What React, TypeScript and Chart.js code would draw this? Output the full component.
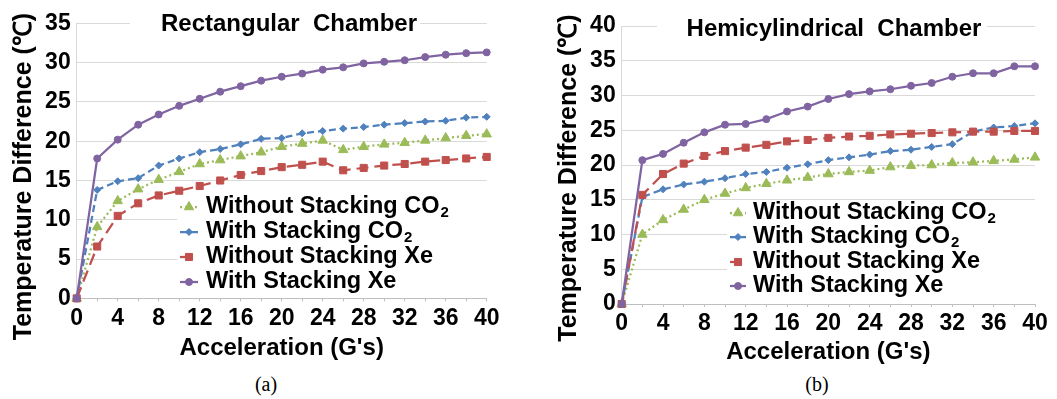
import React, { useEffect, useRef } from "react";
import { Chart, registerables } from "chart.js";

Chart.register(...registerables);

// ---------------- DATA ----------------
const accelerationG = [0, 2, 4, 6, 8, 10, 12, 14, 16, 18, 20, 22, 24, 26, 28, 30, 32, 34, 36, 38, 40];
const xTickLabels = ["0", "4", "8", "12", "16", "20", "24", "28", "32", "36", "40"];

const seriesLabels = [
  "Without Stacking CO\u2082",
  "With Stacking CO\u2082",
  "Without Stacking Xe",
  "With Stacking Xe",
];

// (a) Rectangular Chamber
const rectWithoutStackingCO2 = [0, 9.1, 12.4, 13.9, 15.1, 16.1, 17.1, 17.6, 18.1, 18.6, 19.3, 19.7, 20.1, 18.9, 19.3, 19.6, 19.8, 20.1, 20.4, 20.7, 20.9];
const rectWithStackingCO2 = [0, 13.8, 14.9, 15.3, 16.9, 17.8, 18.6, 19.0, 19.6, 20.3, 20.4, 21.0, 21.3, 21.6, 21.8, 22.1, 22.3, 22.5, 22.6, 23.0, 23.1];
const rectWithoutStackingXe = [0, 6.6, 10.5, 12.1, 13.1, 13.7, 14.3, 15.0, 15.7, 16.2, 16.7, 17.0, 17.4, 16.3, 16.6, 16.9, 17.1, 17.4, 17.6, 17.8, 18.0];
const rectWithStackingXe = [0, 17.8, 20.2, 22.1, 23.4, 24.5, 25.4, 26.3, 27.0, 27.7, 28.2, 28.6, 29.1, 29.4, 29.9, 30.1, 30.3, 30.7, 31.0, 31.2, 31.3];

// (b) Hemicylindrical Chamber
const hemiWithoutStackingCO2 = [0, 10.0, 12.1, 13.6, 15.0, 15.9, 16.7, 17.3, 17.8, 18.2, 18.7, 19.0, 19.2, 19.7, 19.9, 20.0, 20.3, 20.4, 20.6, 20.8, 21.1];
const hemiWithStackingCO2 = [0, 15.4, 16.5, 17.2, 17.6, 18.1, 18.7, 19.0, 19.6, 20.1, 20.7, 21.1, 21.5, 22.0, 22.2, 22.6, 23.0, 24.8, 25.4, 25.6, 26.0];
const hemiWithoutStackingXe = [0, 15.7, 18.7, 20.2, 21.3, 22.0, 22.5, 22.9, 23.4, 23.6, 23.9, 24.1, 24.2, 24.4, 24.5, 24.6, 24.7, 24.8, 24.8, 24.9, 24.9];
const hemiWithStackingXe = [0, 20.7, 21.6, 23.2, 24.7, 25.8, 25.9, 26.6, 27.7, 28.4, 29.5, 30.2, 30.6, 30.9, 31.4, 31.8, 32.7, 33.2, 33.2, 34.2, 34.2];

// ---------------- STYLE ----------------
const FONT = "'Liberation Sans', Arial, Helvetica, sans-serif";
const seriesColors = ["#9BBB59", "#4F81BD", "#C0504D", "#8064A2"];
const seriesDash = [[2, 3], [7, 4], [12, 6], []];
const seriesPoint = ["triangle", "rectRot", "rect", "circle"];
const seriesRadius = [5.5, 3.5, 5, 3.5];

const CANVAS_H = 370;
const X_AXIS_H = 64;

type Spec = {
  title: string;
  yMax: number;
  canvasLeft: number;
  canvasWidth: number;
  plotLeft: number;
  plotRight: number;
  plotTop: number;
  plotBottom: number;
  titleX: number;
  titleY: number;
  titleBox: [number, number, number, number];
  yTitleX: number;
  yTitleY: number;
  legendBox: [number, number, number, number];
  legendLineX0: number;
  legendLineX1: number;
  legendTextX: number;
  legendRows: number[];
  xTitlePadBottom: number;
};

function drawMarker(ctx: CanvasRenderingContext2D, style: string, x: number, y: number, r: number) {
  ctx.beginPath();
  const s = r * Math.SQRT1_2;
  if (style === "circle") {
    ctx.arc(x, y, r, 0, Math.PI * 2);
  } else if (style === "triangle") {
    ctx.moveTo(x, y - r);
    ctx.lineTo(x + r * Math.sin((2 * Math.PI) / 3), y - r * Math.cos((2 * Math.PI) / 3));
    ctx.lineTo(x + r * Math.sin((4 * Math.PI) / 3), y - r * Math.cos((4 * Math.PI) / 3));
  } else if (style === "rect") {
    ctx.rect(x - s, y - s, 2 * s, 2 * s);
  } else if (style === "rectRot") {
    ctx.moveTo(x - r, y);
    ctx.lineTo(x, y + r);
    ctx.lineTo(x + r, y);
    ctx.lineTo(x, y - r);
  }
  ctx.closePath();
  ctx.fill();
  ctx.stroke();
}

function overlayPlugin(spec: Spec) {
  return {
    id: "overlay",
    beforeDatasetsDraw(chart: any) {
      const ctx: CanvasRenderingContext2D = chart.ctx;
      ctx.save();
      ctx.fillStyle = "#ffffff";
      ctx.fillRect(...spec.titleBox);
      ctx.fillRect(...spec.legendBox);
      ctx.restore();
    },
    afterDatasetsDraw(chart: any) {
      const ctx: CanvasRenderingContext2D = chart.ctx;
      ctx.save();
      // chart title
      ctx.fillStyle = "#000";
      ctx.font = `bold 24px ${FONT}`;
      ctx.textAlign = "center";
      ctx.textBaseline = "middle";
      ctx.fillText(spec.title, spec.titleX, spec.titleY);

      // y-axis title
      ctx.save();
      ctx.translate(spec.yTitleX, spec.yTitleY);
      ctx.rotate(-Math.PI / 2);
      ctx.font = `bold 25px ${FONT}`;
      ctx.fillText("Temperature Difference (\u2103)", 0, 0);
      ctx.restore();

      // legend
      chart.data.datasets.forEach((ds: any, i: number) => {
        const y = spec.legendRows[i];
        ctx.save();
        ctx.strokeStyle = ds.borderColor;
        ctx.lineWidth = 2.25;
        ctx.setLineDash(ds.borderDash || []);
        ctx.beginPath();
        ctx.moveTo(spec.legendLineX0, y);
        ctx.lineTo(spec.legendLineX1, y);
        ctx.stroke();
        ctx.setLineDash([]);
        ctx.fillStyle = ds.borderColor;
        ctx.lineWidth = 1;
        drawMarker(ctx, ds.pointStyle, (spec.legendLineX0 + spec.legendLineX1) / 2, y, ds.pointRadius);
        ctx.restore();

        const label: string = ds.label;
        ctx.fillStyle = "#000";
        ctx.textAlign = "left";
        ctx.textBaseline = "middle";
        ctx.font = `bold 23.5px ${FONT}`;
        if (label.endsWith("\u2082")) {
          const base = label.slice(0, -1);
          ctx.fillText(base, spec.legendTextX, y);
          const w = ctx.measureText(base).width;
          ctx.font = `bold 15px ${FONT}`;
          ctx.fillText("2", spec.legendTextX + w + 1, y + 6);
        } else {
          ctx.fillText(label, spec.legendTextX, y);
        }
      });
      ctx.restore();
    },
  };
}

function Panel({ spec, series }: { spec: Spec; series: number[][] }) {
  const ref = useRef<HTMLCanvasElement>(null);
  useEffect(() => {
    const canvas = ref.current;
    if (!canvas) return;
    const chart = new Chart(canvas, {
      type: "line",
      data: {
        datasets: series.map((vals, i) => ({
          label: seriesLabels[i],
          data: accelerationG.map((x, j) => ({ x, y: vals[j] })),
          borderColor: seriesColors[i],
          backgroundColor: seriesColors[i],
          borderDash: seriesDash[i],
          borderWidth: 2.25,
          pointStyle: seriesPoint[i] as any,
          pointRadius: seriesRadius[i],
          pointBorderWidth: 1,
          pointBackgroundColor: seriesColors[i],
          pointBorderColor: seriesColors[i],
          tension: 0,
          clip: false as any,
          order: 4 - i,
        })),
      },
      options: {
        animation: false,
        responsive: false,
        maintainAspectRatio: false,
        devicePixelRatio: 1,
        layout: {
          padding: {
            left: 0,
            top: spec.plotTop,
            right: spec.canvasWidth - spec.plotRight,
            bottom: CANVAS_H - spec.plotBottom - X_AXIS_H,
          },
        },
        plugins: {
          legend: { display: false },
          tooltip: { enabled: false },
          title: { display: false },
        },
        scales: {
          x: {
            type: "linear",
            min: 0,
            max: 40,
            ticks: {
              stepSize: 2,
              autoSkip: false,
              maxRotation: 0,
              padding: 3,
              color: "#000",
              font: { family: FONT, size: 23, weight: "bold" },
              callback: (v: any) => (xTickLabels.includes(String(v)) ? String(v) : ""),
            },
            grid: { drawOnChartArea: false, drawTicks: true, tickLength: 3, color: "#bfbfbf" },
            border: { display: true, color: "#bfbfbf", width: 1 },
            title: {
              display: true,
              text: "Acceleration (G's)",
              color: "#000",
              font: { family: FONT, size: 24, weight: "bold" },
              padding: { top: 0, bottom: spec.xTitlePadBottom },
            },
            afterFit: (s: any) => {
              s.height = X_AXIS_H;
            },
          },
          y: {
            type: "linear",
            min: 0,
            max: spec.yMax,
            ticks: {
              stepSize: 5,
              padding: 6,
              color: "#000",
              font: { family: FONT, size: 23, weight: "bold" },
            },
            grid: { color: "#d9d9d9", drawTicks: false },
            border: { display: true, color: "#d9d9d9" },
            afterFit: (s: any) => {
              s.width = spec.plotLeft;
            },
          },
        },
      } as any,
      plugins: [overlayPlugin(spec)],
    });
    return () => chart.destroy();
  }, []);
  return (
    <canvas
      ref={ref}
      width={spec.canvasWidth}
      height={CANVAS_H}
      style={{ position: "absolute", left: spec.canvasLeft, top: 0, width: spec.canvasWidth, height: CANVAS_H }}
    />
  );
}

const specA: Spec = {
  title: "Rectangular  Chamber",
  yMax: 35,
  canvasLeft: 0,
  canvasWidth: 528,
  plotLeft: 76.7,
  plotRight: 486.7,
  plotTop: 23.3,
  plotBottom: 298.4,
  titleX: 289,
  titleY: 24.5,
  titleBox: [130, 8, 290, 33],
  yTitleX: 24,
  yTitleY: 176.5,
  legendBox: [177, 189, 310, 107],
  legendLineX0: 180,
  legendLineX1: 198,
  legendTextX: 206,
  legendRows: [207, 232, 257, 282],
  xTitlePadBottom: 0,
};

const specB: Spec = {
  title: "Hemicylindrical  Chamber",
  yMax: 40,
  canvasLeft: 528,
  canvasWidth: 529,
  plotLeft: 93.7,
  plotRight: 507,
  plotTop: 26,
  plotBottom: 304,
  titleX: 306,
  titleY: 29,
  titleBox: [129, 12, 330, 34],
  yTitleX: 41.5,
  yTitleY: 178,
  legendBox: [199, 201, 308, 101],
  legendLineX0: 202,
  legendLineX1: 218,
  legendTextX: 225,
  legendRows: [213, 237, 262, 286],
  xTitlePadBottom: 1.6,
};

export default function App() {
  const captionStyle: React.CSSProperties = {
    position: "absolute",
    top: 372,
    width: 100,
    textAlign: "center",
    fontFamily: "'Liberation Serif', 'Times New Roman', serif",
    fontSize: 20,
    lineHeight: "24px",
    color: "#000",
  };
  return (
    <div style={{ position: "absolute", left: 0, top: 0, width: 1057, height: 399, background: "#fff", overflow: "hidden" }}>
      <Panel spec={specA} series={[rectWithoutStackingCO2, rectWithStackingCO2, rectWithoutStackingXe, rectWithStackingXe]} />
      <Panel spec={specB} series={[hemiWithoutStackingCO2, hemiWithStackingCO2, hemiWithoutStackingXe, hemiWithStackingXe]} />
      <div style={{ ...captionStyle, left: 216 }}>(a)</div>
      <div style={{ ...captionStyle, left: 767 }}>(b)</div>
    </div>
  );
}
